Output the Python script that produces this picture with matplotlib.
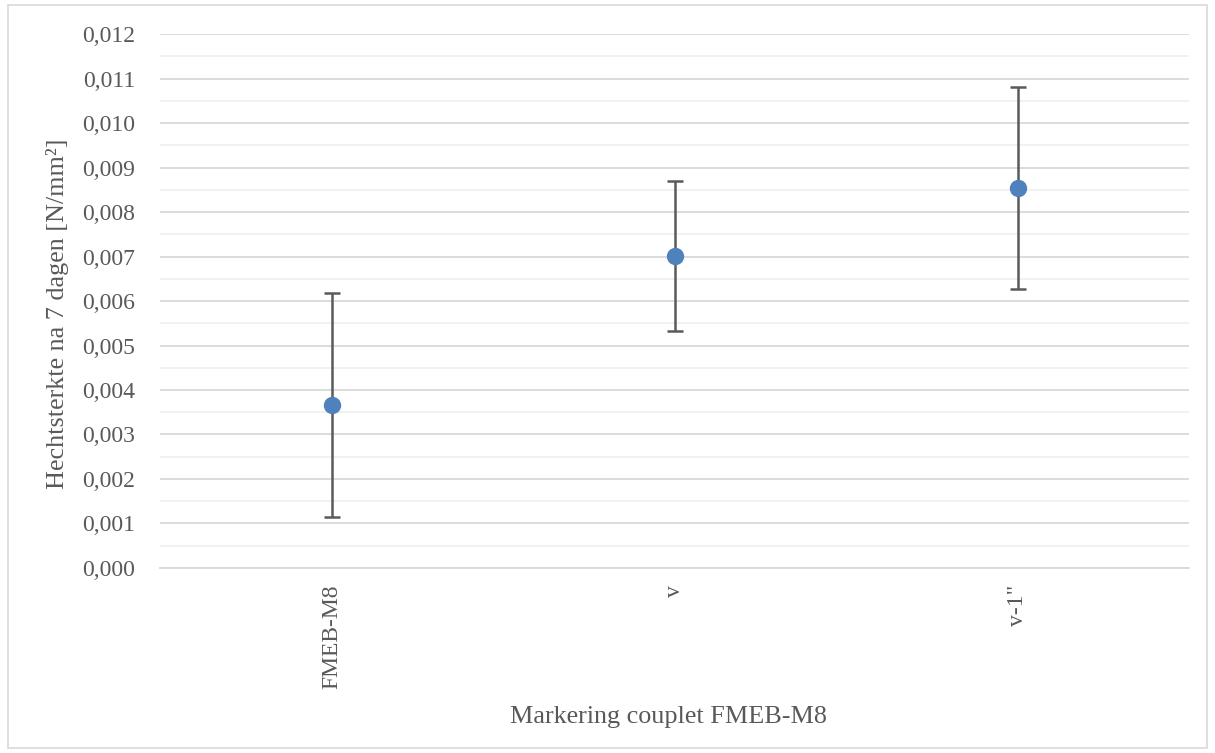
import matplotlib.pyplot as plt
from matplotlib.patches import Rectangle
from matplotlib.ticker import MultipleLocator, FuncFormatter

# Bond strength after 7 days per couplet marking
categories = ['FMEB-M8', 'v', 'v-1"']
means = [0.00366, 0.00701, 0.00854]
errors = [0.00252, 0.00168, 0.00226]

plt.rcParams['font.family'] = ['Liberation Serif', 'DejaVu Serif']

fig = plt.figure(figsize=(12.15, 7.53), dpi=100)
ax = fig.add_axes([0.1317, 0.2457, 0.8473, 0.7091])

# light frame round the whole chart
fig.patches.append(Rectangle((8 / 1215, 5 / 753), 1199 / 1215, 743 / 753,
                             transform=fig.transFigure, fill=False,
                             edgecolor='#d9d9d9', linewidth=1.2))

x = range(len(categories))
ax.errorbar(x, means, yerr=errors, fmt='o', color='#4f81bd', markersize=11.5,
            ecolor='#5a5a5a', elinewidth=1.8, capsize=6, capthick=1.8, zorder=3)

ax.set_xlim(-0.5, len(categories) - 0.5)
ax.set_ylim(0, 0.012)
ax.yaxis.set_major_locator(MultipleLocator(0.001))
ax.yaxis.set_minor_locator(MultipleLocator(0.0005))
ax.yaxis.set_major_formatter(FuncFormatter(lambda v, p: f'{v:.3f}'.replace('.', ',')))
ax.grid(which='major', axis='y', color='#d9d9d9', linewidth=1.3, zorder=0)
ax.grid(which='minor', axis='y', color='#f0f0f0', linewidth=1.3, zorder=0)
ax.set_axisbelow(True)

ax.set_xticks(list(x))
ax.set_xticklabels(categories, rotation=90, va='top')
ax.tick_params(axis='both', which='both', length=0, labelsize=17, colors='#595959')
ax.tick_params(axis='x', pad=12)
ax.tick_params(axis='y', pad=18)

for side in ['top', 'right', 'left']:
    ax.spines[side].set_visible(False)
ax.spines['bottom'].set_color('#d9d9d9')
ax.spines['bottom'].set_linewidth(1.3)

ax.set_xlabel('Markering couplet FMEB-M8', fontsize=18.8, color='#595959')
ax.set_ylabel('Hechtsterkte na 7 dagen [N/mm²]', fontsize=18.8, color='#595959')
ax.xaxis.set_label_coords(0.494, -0.258)
ax.yaxis.set_label_coords(-0.088, 0.476)

fig.savefig('out.png', dpi=100)
